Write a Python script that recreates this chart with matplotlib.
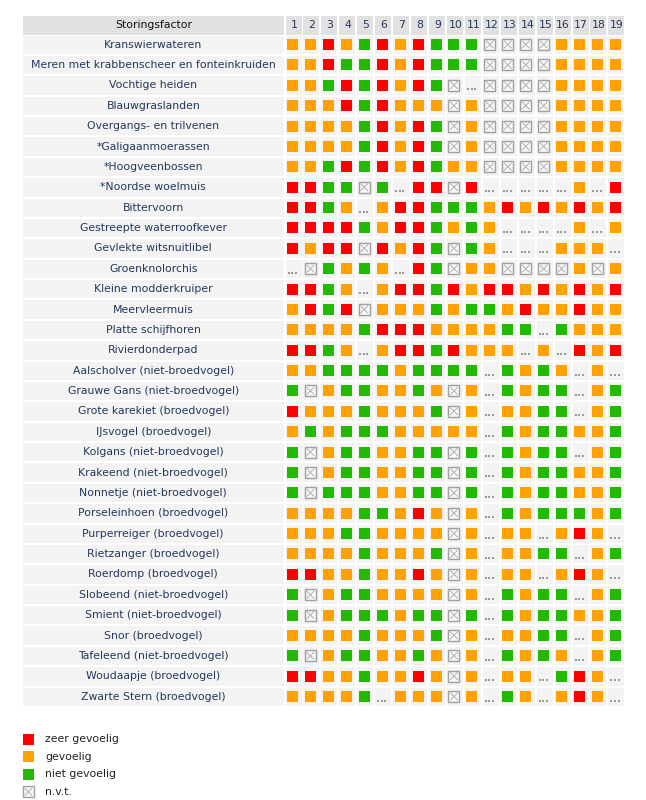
import matplotlib
matplotlib.use('Agg')
import matplotlib.pyplot as plt
from matplotlib.patches import Rectangle

# R = zeer gevoelig, O = gevoelig, G = niet gevoelig, X = n.v.t., D = geen gegevens (...)
factors = [str(i) for i in range(1, 20)]

labels = [
    'Kranswierwateren',
    'Meren met krabbenscheer en fonteinkruiden',
    'Vochtige heiden',
    'Blauwgraslanden',
    'Overgangs- en trilvenen',
    '*Galigaanmoerassen',
    '*Hoogveenbossen',
    '*Noordse woelmuis',
    'Bittervoorn',
    'Gestreepte waterroofkever',
    'Gevlekte witsnuitlibel',
    'Groenknolorchis',
    'Kleine modderkruiper',
    'Meervleermuis',
    'Platte schijfhoren',
    'Rivierdonderpad',
    'Aalscholver (niet-broedvogel)',
    'Grauwe Gans (niet-broedvogel)',
    'Grote karekiet (broedvogel)',
    'IJsvogel (broedvogel)',
    'Kolgans (niet-broedvogel)',
    'Krakeend (niet-broedvogel)',
    'Nonnetje (niet-broedvogel)',
    'Porseleinhoen (broedvogel)',
    'Purperreiger (broedvogel)',
    'Rietzanger (broedvogel)',
    'Roerdomp (broedvogel)',
    'Slobeend (niet-broedvogel)',
    'Smient (niet-broedvogel)',
    'Snor (broedvogel)',
    'Tafeleend (niet-broedvogel)',
    'Woudaapje (broedvogel)',
    'Zwarte Stern (broedvogel)',
]

scores = [
    'OOROGRORGGGXXXXOOOO',
    'OORGGRORGGGXXXXOOOO',
    'OOGRGRORGXDXXXXOOOO',
    'OOORGROOOXOXXXXOOOO',
    'OOOOGRORGXOXXXXOOOO',
    'OOOOGRORGXOXXXXOOOO',
    'OOGRGRORGOOXXXXOOOO',
    'RRGGXGDRRXRDDDDDODR',
    'RRGODORRGGGOROROROR',
    'RRRRGORRGOGODDDDODO',
    'RORRXRORGXGODDDOOOD',
    'DXGOGODRGXOOXXXXOXO',
    'RRGODORRGRORROROROR',
    'ORGRXOOOGOGGOROOROO',
    'OOOOGRRROOOOGGDGOOO',
    'RRGODORRGROOODODROR',
    'OOGGGGOGGGGDGOGODOD',
    'GXOGGOOGOXODGOGGDOG',
    'ROOOGOOOGXODOOGGDOG',
    'OGOGGGOOOOODGOGGOOG',
    'GXOGGOOGGXGDGOGGDOG',
    'GXOGGOOGGXGDGOGGOOG',
    'GXGGGOOGGXGDGOGGOOG',
    'OOOOGGOROXODGOGGGOG',
    'OOOGGOOOOXODOODOROD',
    'OOOOGOOOGXODOOGGDOG',
    'RROOGOOROXODOODOROD',
    'GXOGGOOOOXODGOGGDOG',
    'GXOGGGOGGXGDGOGGOOG',
    'OOOOGOOOGXODOOGGDOG',
    'GXOGGOOGOXODGOGODOG',
    'RROOGOOROXODOODGROD',
    'OOOOGDOOOXODGODOROD',
]

legend_items = ['zeer gevoelig', 'gevoelig', 'niet gevoelig', 'n.v.t.']
colors = {'R': '#ff0000', 'O': '#ffa200', 'G': '#22b900'}

fig = plt.figure(figsize=(6.46, 8.0), dpi=100)
ax = fig.add_axes([0, 0, 1, 1])
ax.set_xlim(0, 646)
ax.set_ylim(800, 0)
ax.axis('off')

lab_x0, lab_x1 = 23, 283.5
col_x0, col_dx, col_w = 285.5, 17.94, 16
hdr_y0, hdr_h = 16, 18.5
row_y0, row_dy, row_h = 35.5, 20.375, 18.4
sq = 11
txt_col = '#24385a'
fs = 7.8

# header
ax.add_patch(Rectangle((lab_x0, hdr_y0), lab_x1 - lab_x0, hdr_h, fc='#e1e1e1', ec='none'))
ax.text((lab_x0 + lab_x1) / 2, hdr_y0 + hdr_h / 2, 'Storingsfactor', ha='center', va='center',
        fontsize=fs, color='#111111')
for j, f in enumerate(factors):
    x = col_x0 + j * col_dx
    ax.add_patch(Rectangle((x, hdr_y0), col_w, hdr_h, fc='#e1e1e1', ec='none'))
    ax.text(x + col_w / 2 + 0.5, hdr_y0 + hdr_h / 2, f, ha='center', va='center',
            fontsize=fs, color=txt_col)


def draw_na(x, y):
    ax.add_patch(Rectangle((x, y), sq, sq, fc='#f8f8f8', ec='#a0a0a0', lw=1.0))
    ax.plot([x + 2, x + sq - 2], [y + 2, y + sq - 2], color='#b0b0b0', lw=0.7)
    ax.plot([x + 2, x + sq - 2], [y + sq - 2, y + 2], color='#b0b0b0', lw=0.7)


for i, (lab, row) in enumerate(zip(labels, scores)):
    y = row_y0 + i * row_dy
    ax.add_patch(Rectangle((lab_x0, y), lab_x1 - lab_x0, row_h, fc='#f3f3f3', ec='none'))
    ax.text((lab_x0 + lab_x1) / 2, y + row_h / 2, lab, ha='center', va='center',
            fontsize=fs, color=txt_col)
    for j, c in enumerate(row):
        x = col_x0 + j * col_dx
        ax.add_patch(Rectangle((x, y), col_w, row_h, fc='#f3f3f3', ec='none'))
        sx, sy = x + 1.5, y + 3.5
        if c in colors:
            ax.add_patch(Rectangle((sx, sy), sq, sq, fc=colors[c], ec='none'))
        elif c == 'X':
            draw_na(sx, sy)
        else:
            # "..." = geen gegevens
            ax.scatter([sx + 1.5 + k * 3.6 for k in range(3)], [sy + 9.5] * 3,
                       marker='s', s=2.6, color='#999999', linewidths=0)

# legend
leg_y0, leg_dy = 733.5, 17.6
for k, name in enumerate(legend_items):
    y = leg_y0 + k * leg_dy
    code = 'ROGX'[k]
    if code in colors:
        ax.add_patch(Rectangle((23, y), sq, sq, fc=colors[code], ec='none'))
    else:
        draw_na(23, y)
    ax.text(45, y + sq / 2, name, ha='left', va='center', fontsize=fs, color='#222222')

plt.savefig('out.png', dpi=100)
